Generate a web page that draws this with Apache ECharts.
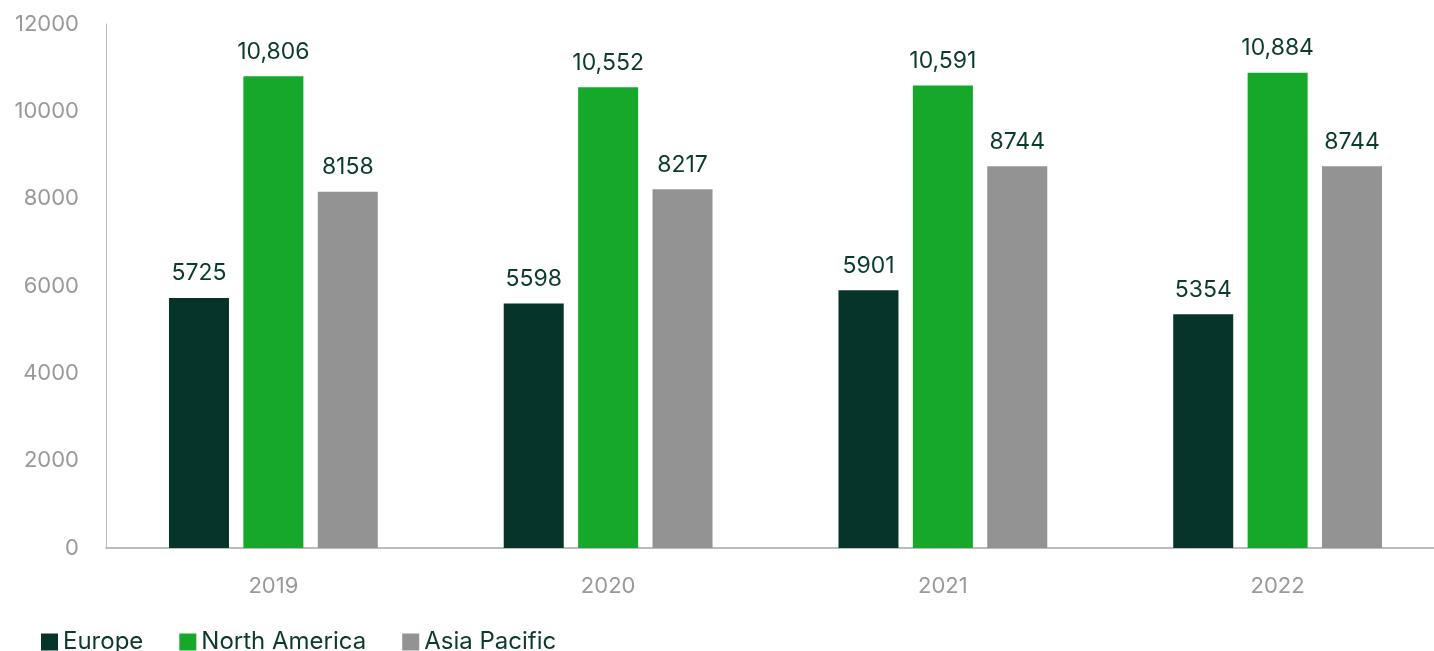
<!DOCTYPE html>
<html>
<head>
<meta charset="utf-8">
<script src="https://cdn.jsdelivr.net/npm/echarts@6/dist/echarts.min.js"></script>
<style>
    html, body { margin: 0; padding: 0; background: #fff; }
    #chart { width: 1434px; height: 651px; }
</style>
</head>
<body>
<div id="chart"></div>
<script>
    // data
    var years = ['2019', '2020', '2021', '2022'];
    var europe = [5725, 5598, 5901, 5354];
    var northAmerica = [10806, 10552, 10591, 10884];
    var asiaPacific = [8158, 8217, 8744, 8744];
    var yTicks = { min: 0, max: 12000, step: 2000 };

    var font = 'Inter, "Noto Sans", sans-serif';

    // only five digit values get a thousands comma in the original
    function fmt(p) {
        var v = p.value;
        return v >= 10000 ? v.toLocaleString('en-US') : String(v);
    }

    function bar(name, data, color) {
        return {
            name: name,
            type: 'bar',
            data: data,
            barWidth: 60,
            barGap: '24%',
            itemStyle: { color: color },
            label: {
                show: true,
                position: 'top',
                distance: 13,
                color: '#0b3a2f',
                fontFamily: font,
                fontSize: 23,
                formatter: fmt
            }
        };
    }

    var myChart = echarts.init(document.getElementById('chart'));

    var option = {
        animation: false,
        // plot runs a little past the right edge, as in the original
        grid: { left: 106, width: 1339, top: 24, bottom: 103, outerBoundsMode: 'none' },
        legend: {
            left: 36,
            top: 625,
            icon: 'rect',
            itemWidth: 17,
            itemHeight: 17,
            itemGap: 36,
            textStyle: { color: '#0b3a2f', fontFamily: font, fontSize: 24 },
            data: ['Europe', 'North America', 'Asia Pacific']
        },
        xAxis: {
            type: 'category',
            data: years,
            axisLine: { lineStyle: { color: '#a6a6a6', width: 1.5 } },
            axisTick: { show: false },
            axisLabel: { color: '#999', fontFamily: font, fontSize: 22, margin: 27 }
        },
        yAxis: {
            type: 'value',
            min: yTicks.min,
            max: yTicks.max,
            interval: yTicks.step,
            splitLine: { show: false },
            axisLine: { show: true, lineStyle: { color: '#bbb', width: 1 } },
            axisLabel: {
                color: '#999', fontFamily: font, fontSize: 22, margin: 27,
                formatter: function (v) { return String(v); }
            }
        },
        series: [
            bar('Europe', europe, '#06332a'),
            bar('North America', northAmerica, '#16a82a'),
            bar('Asia Pacific', asiaPacific, '#939393')
        ]
    };

    myChart.setOption(option);
</script>
</body>
</html>
